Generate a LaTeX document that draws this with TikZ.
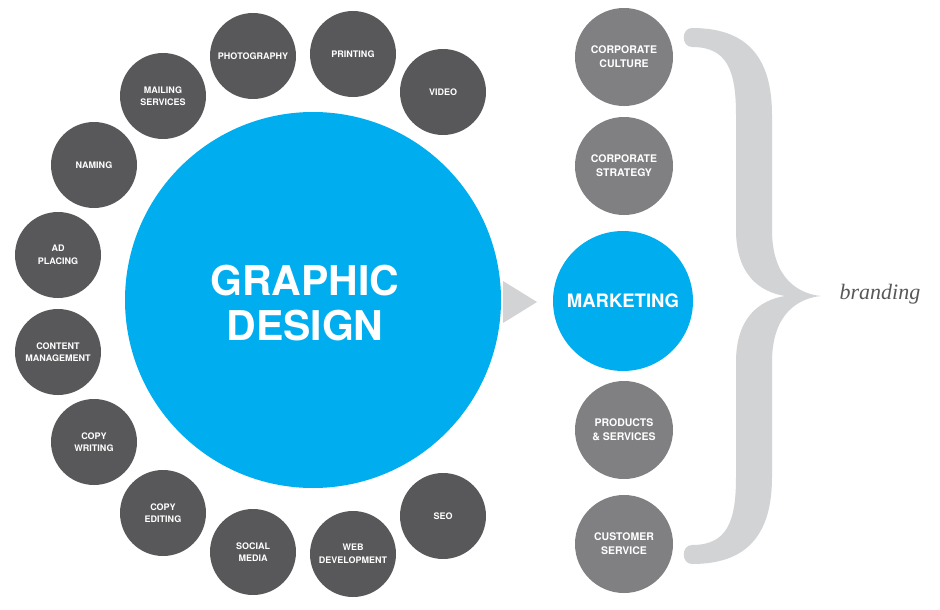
\documentclass[tikz,border=0pt]{standalone}
\usepackage{fontspec}
\setmainfont{TeX Gyre Heros}
\newfontfamily\brandfont{Liberation Serif}
\definecolor{bubblegray}{HTML}{58585A}
\definecolor{facetgray}{HTML}{808083}
\definecolor{designblue}{HTML}{00AEEF}
\definecolor{bracegray}{HTML}{D1D3D4}
\begin{document}
\begin{tikzpicture}[x=1pt,y=-1pt,
	skill/.style={circle,fill=bubblegray,minimum size=86pt,inner sep=0pt,align=center,text=white,font=\bfseries\fontsize{9}{12.5}\selectfont},
	facet/.style={circle,fill=facetgray,minimum size=98pt,inner sep=0pt,align=center,text=white,font=\bfseries\fontsize{10.5}{14}\selectfont}]
	\useasboundingbox (0,0) rectangle (940,610);
	\node[circle,fill=designblue,minimum size=376pt,inner sep=0pt] (design) at (313,300) {};
	\node[align=center,text=white,font=\bfseries\fontsize{41}{45}\selectfont] (designtext) at (305,303) {GRAPHIC\\DESIGN};
	\node[skill] (photo) at (253,56) {PHOTOGRAPHY};
	\node[skill] (print) at (353,54) {PRINTING};
	\node[skill] (video) at (443,92) {VIDEO};
	\node[skill] (mail) at (163,96) {MAILING\\SERVICES};
	\node[skill] (naming) at (94,165) {NAMING};
	\node[skill] (ad) at (58,255) {AD\\PLACING};
	\node[skill] (content) at (58,352) {CONTENT\\MANAGEMENT};
	\node[skill] (cwrite) at (94,442) {COPY\\WRITING};
	\node[skill] (cedit) at (163,513) {COPY\\EDITING};
	\node[skill] (social) at (253,552) {SOCIAL\\MEDIA};
	\node[skill] (web) at (353,554) {WEB\\DEVELOPMENT};
	\node[skill] (seo) at (443,516) {SEO};
	\fill[bracegray](503,281)--(537,302)--(503,323)--cycle;
	\node[facet] (culture) at (624,57) {CORPORATE\\CULTURE};
	\node[facet] (strategy) at (624,166) {CORPORATE\\STRATEGY};
	\node[circle,fill=designblue,minimum size=140pt,inner sep=0pt,text=white,font=\bfseries\fontsize{18.5}{22}\selectfont] (marketing) at (623,301) {MARKETING};
	\node[facet] (products) at (624,430) {PRODUCTS\\\&~SERVICES};
	\node[facet] (customer) at (624,544) {CUSTOMER\\SERVICE};
	% brace
	\fill[bracegray](821,296) .. controls (800,294) and (772,280) .. (772,230) -- (772,115)
		.. controls (772,55) and (745,28) .. (692,28)
		.. controls (681,28) and (681,47) .. (692,47)
		.. controls (727,47) and (736,70) .. (736,115) -- (736,230)
		.. controls (736,275) and (760,292) .. (785,296)
		.. controls (760,300) and (736,317) .. (736,362) -- (736,477)
		.. controls (736,522) and (727,545) .. (692,545)
		.. controls (681,545) and (681,564) .. (692,564)
		.. controls (745,564) and (772,537) .. (772,477) -- (772,362)
		.. controls (772,312) and (800,298) .. (821,296) -- cycle;
	\node[text=bubblegray,font=\brandfont\itshape\fontsize{22}{24}\selectfont] (brand) at (880,294) {branding};
\end{tikzpicture}
\end{document}
